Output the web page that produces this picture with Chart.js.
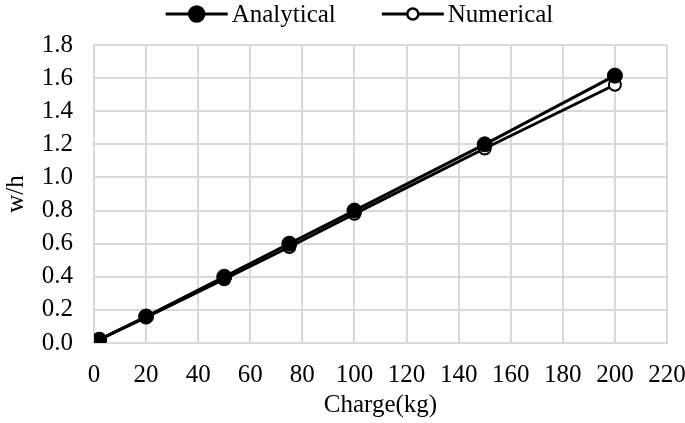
<!DOCTYPE html>
<html>
<head>
<meta charset="utf-8">
<script src="https://cdn.jsdelivr.net/npm/chart.js@4"></script>
<style>
  html, body { margin: 0; padding: 0; background: #fff; }
  #wrap { width: 685px; height: 423px; }
</style>
</head>
<body>
<div id="wrap"><canvas id="chart"></canvas></div>
<script>
// Charge (kg)
const charges = [2, 20, 50, 75, 100, 150, 200];
// w/h
const analytical = [0.02, 0.16, 0.40, 0.60, 0.80, 1.20, 1.615];
const numerical = [0.02, 0.155, 0.385, 0.58, 0.78, 1.175, 1.56];

const xTicks = [0, 20, 40, 60, 80, 100, 120, 140, 160, 180, 200, 220];

function toPoints(xs, ys) {
  return xs.map((x, i) => ({ x: x, y: ys[i] }));
}

const fontFamily = "'Liberation Serif', 'Times New Roman', serif";
const font = { family: fontFamily, size: 25 };

// legende dessinee a la main (ligne + marqueur + texte)
const legendPlugin = {
  id: "customLegend",
  afterDraw(chart) {
    const ctx = chart.ctx;
    const items = chart.data.datasets;
    const lineW = 62, gap = 4, between = 46;
    ctx.save();
    ctx.font = `${font.size}px ${fontFamily}`;
    const widths = items.map((ds) => lineW + gap + ctx.measureText(ds.label).width);
    const total = widths.reduce((a, b) => a + b, 0) + between * (items.length - 1);
    let x = (chart.width - total) / 2 + 17;
    const y = 14;
    items.forEach((ds, i) => {
      ctx.beginPath();
      ctx.moveTo(x, y);
      ctx.lineTo(x + lineW, y);
      ctx.lineWidth = 3;
      ctx.strokeStyle = "#000";
      ctx.stroke();
      ctx.beginPath();
      ctx.arc(x + lineW / 2, y, i === 0 ? 7.5 : 5.5, 0, Math.PI * 2);
      ctx.fillStyle = ds.pointBackgroundColor;
      ctx.fill();
      ctx.lineWidth = 2.5;
      ctx.stroke();
      ctx.fillStyle = "#000";
      ctx.textBaseline = "middle";
      ctx.textAlign = "left";
      ctx.fillText(ds.label, x + lineW + gap, y + 1);
      x += widths[i] + between;
    });
    ctx.restore();
  },
};

new Chart(document.getElementById("chart"), {
  type: "line",
  data: {
    datasets: [
      {
        label: "Analytical",
        data: toPoints(charges, analytical),
        borderColor: "#000",
        backgroundColor: "#000",
        borderWidth: 3,
        pointRadius: 7.5,
        pointBorderWidth: 1,
        pointBackgroundColor: "#000",
      },
      {
        label: "Numerical",
        data: toPoints(charges, numerical),
        borderColor: "#000",
        backgroundColor: "#fff",
        borderWidth: 3,
        pointRadius: 6,
        pointBorderWidth: 2,
        pointBackgroundColor: "#fff",
      },
    ],
  },
  options: {
    responsive: true,
    maintainAspectRatio: false,
    animation: false,
    layout: { padding: { left: 1, right: 0, top: 45, bottom: 3 } },
    plugins: {
      legend: { display: false },
      tooltip: { enabled: false },
    },
    scales: {
      x: {
        type: "linear",
        min: 0,
        max: 220,
        afterBuildTicks: (axis) => { axis.ticks = xTicks.map((v) => ({ value: v })); },
        afterFit: (scale) => {
          scale.height = 77;
          scale.paddingRight = 18;
        },
        grid: { color: "#d9d9d9", lineWidth: 2, drawTicks: false },
        border: { color: "#d9d9d9", width: 2 },
        ticks: { font: font, color: "#000", padding: 17, maxRotation: 0 },
        title: { display: true, text: "Charge(kg)", font: font, color: "#000", padding: { top: 0, bottom: 0 } },
      },
      y: {
        min: 0,
        max: 1.8,
        afterFit: (scale) => { scale.width = 93; },
        ticks: {
          stepSize: 0.2,
          font: font,
          color: "#000",
          padding: 21,
          callback: (v) => v.toFixed(1),
        },
        grid: { color: "#d9d9d9", lineWidth: 2, drawTicks: false },
        border: { color: "#d9d9d9", width: 2 },
        title: { display: true, text: "w/h", font: font, color: "#000", padding: { top: 0, bottom: 0 } },
      },
    },
  },
  plugins: [legendPlugin],
});
</script>
</body>
</html>
